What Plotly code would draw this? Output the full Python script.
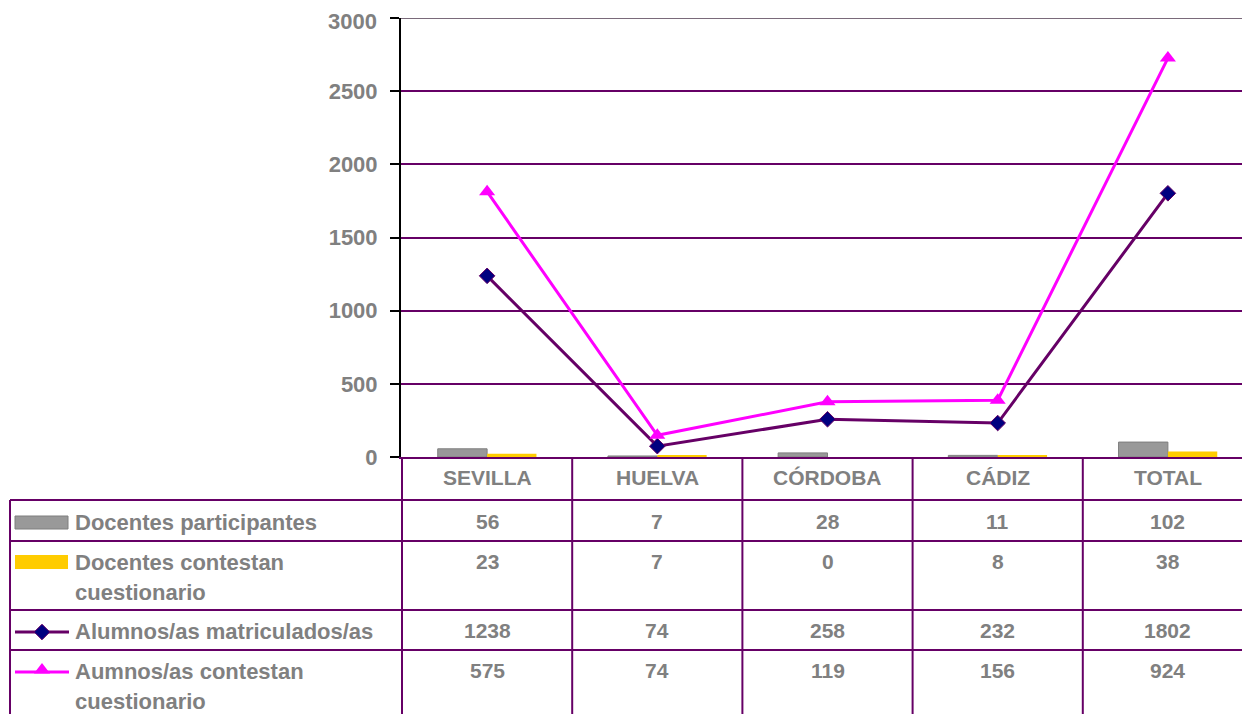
import plotly.graph_objects as go

categories = ["SEVILLA", "HUELVA", "CÓRDOBA", "CÁDIZ", "TOTAL"]
docentes_participantes = [56, 7, 28, 11, 102]
docentes_contestan = [23, 7, 0, 8, 38]
alumnos_matriculados = [1238, 74, 258, 232, 1802]
alumnos_contestan = [575, 74, 119, 156, 924]
y_ticks = [0, 500, 1000, 1500, 2000, 2500, 3000]

series_label_lines = [["Docentes participantes"],
                      ["Docentes contestan", "cuestionario"],
                      ["Alumnos/as matriculados/as"],
                      ["Aumnos/as contestan", "cuestionario"]]
series_values = [docentes_participantes, docentes_contestan, alumnos_matriculados, alumnos_contestan]

W, H = 1250, 714
OFF = 8  # page body margin
PURPLE = "#660066"
GRAY_TXT = "#808080"
FONT = "Liberation Sans"


def fx(x):
    return (x - OFF) / W


def fy(y):
    return 1 - (y - OFF) / H


fig = go.Figure()

fig.add_trace(go.Bar(x=categories, y=docentes_participantes, name="Docentes participantes",
                     marker=dict(color="#999999", line=dict(color="#7f7f7f", width=1))))
fig.add_trace(go.Bar(x=categories, y=docentes_contestan, name="Docentes contestan cuestionario",
                     marker=dict(color="#FFCC00", line=dict(width=0))))
fig.add_trace(go.Scatter(x=categories, y=alumnos_matriculados, name="Alumnos/as matriculados/as",
                         stackgroup="s", fill="none", mode="lines+markers",
                         line=dict(color=PURPLE, width=3),
                         marker=dict(symbol="diamond", size=12, color="#000080",
                                     line=dict(color=PURPLE, width=1))))
fig.add_trace(go.Scatter(x=categories, y=alumnos_contestan, name="Aumnos/as contestan cuestionario",
                         stackgroup="s", fill="none", mode="lines+markers",
                         line=dict(color="#FF00FF", width=3),
                         marker=dict(symbol="triangle-up", size=14, color="#FF00FF")))

# legend keys inside the data table (overlay axes in page pixels)
common = dict(xaxis="x2", yaxis="y2", showlegend=False, hoverinfo="skip")
fig.add_trace(go.Scatter(x=[15, 68, 68, 15, 15], y=[516, 516, 529, 529, 516], fill="toself",
                         fillcolor="#999999", mode="lines", line=dict(color="#7f7f7f", width=1),
                         **common))
fig.add_trace(go.Scatter(x=[15, 68, 68, 15, 15], y=[555, 555, 569, 569, 555], fill="toself",
                         fillcolor="#FFCC00", mode="lines", line=dict(color="#FFCC00", width=0),
                         **common))
fig.add_trace(go.Scatter(x=[15, 69], y=[632, 632], mode="lines",
                         line=dict(color=PURPLE, width=3), **common))
fig.add_trace(go.Scatter(x=[42], y=[632], mode="markers",
                         marker=dict(symbol="diamond", size=12, color="#000080",
                                     line=dict(color=PURPLE, width=1)), **common))
fig.add_trace(go.Scatter(x=[15, 69], y=[672, 672], mode="lines",
                         line=dict(color="#FF00FF", width=3), **common))
fig.add_trace(go.Scatter(x=[42], y=[670], mode="markers",
                         marker=dict(symbol="triangle-up", size=14, color="#FF00FF"), **common))

shapes = []
# top border line at 3000
shapes.append(dict(type="line", xref="paper", yref="y", x0=fx(401), x1=1, y0=3000, y1=3000,
                   line=dict(color="#7a6a7a", width=2)))
# table horizontal lines
for yy in [500, 541, 610, 650]:
    shapes.append(dict(type="line", xref="paper", yref="paper", x0=fx(10), x1=1,
                       y0=fy(yy), y1=fy(yy), line=dict(color=PURPLE, width=2)))
# table left border
shapes.append(dict(type="line", xref="paper", yref="paper", x0=fx(10), x1=fx(10),
                   y0=fy(500), y1=0, line=dict(color=PURPLE, width=2)))
# column dividers
for i in range(len(categories)):
    shapes.append(dict(type="line", xref="x", yref="paper", x0=i - 0.5, x1=i - 0.5,
                       y0=fy(457), y1=0, line=dict(color=PURPLE, width=2)))

annotations = []
font_tick = dict(family=FONT, size=22, color=GRAY_TXT, weight="bold")
font_tbl = dict(family=FONT, size=21, color=GRAY_TXT, weight="bold")
font_lbl = dict(family=FONT, size=22, color=GRAY_TXT, weight="bold")
for c in categories:
    annotations.append(dict(x=c, xref="x", y=fy(477), yref="paper", text=c, showarrow=False,
                            font=font_tbl, xanchor="center", yanchor="middle"))
value_rows = [521, 561, 630, 670]
for vals, yy in zip(series_values, value_rows):
    for c, v in zip(categories, vals):
        annotations.append(dict(x=c, xref="x", y=fy(yy), yref="paper", text=str(v), showarrow=False,
                                font=font_tbl, xanchor="center", yanchor="middle"))
label_centers = [[522], [562, 592], [631], [671, 701]]
for lines, ys in zip(series_label_lines, label_centers):
    for txt, yy in zip(lines, ys):
        annotations.append(dict(x=fx(73), xref="paper", y=fy(yy), yref="paper", text=txt,
                                showarrow=False, font=font_lbl, xanchor="left", yanchor="middle"))

# top tick label placed as annotation so it stays inside the figure
top_tick = y_ticks[-1]
annotations.append(dict(x=fx(378), xref="paper", y=1, yref="paper", text=str(top_tick),
                        showarrow=False, font=font_tick, xanchor="right", yanchor="top",
                        borderpad=0))
tick_text = [str(v) if v != top_tick else "" for v in y_ticks]

fig.update_layout(
    width=W, height=H,
    margin=dict(l=0, r=0, t=0, b=0, pad=0),
    paper_bgcolor="white", plot_bgcolor="rgba(0,0,0,0)",
    showlegend=False,
    barmode="group", bargap=0.42, bargroupgap=0,
    xaxis=dict(domain=[fx(401), fx(1253)], showticklabels=False, ticks="", showline=True,
               linecolor=PURPLE, linewidth=2, showgrid=False, automargin=False, fixedrange=True),
    yaxis=dict(domain=[fy(457), fy(18)], range=[0, 3000], tickvals=y_ticks, ticktext=tick_text,
               showgrid=True, gridcolor=PURPLE, gridwidth=2, zeroline=False,
               showline=True, linecolor="black", linewidth=2,
               ticks="outside", ticklen=9, tickwidth=2, tickcolor="black",
               ticklabelstandoff=8, automargin=False,
               tickfont=font_tick),
    xaxis2=dict(domain=[0, 1], range=[OFF, W + OFF], visible=False, anchor="y2", automargin=False),
    yaxis2=dict(domain=[0, 1], range=[H + OFF, OFF], visible=False, anchor="x2", automargin=False),
    shapes=shapes, annotations=annotations,
)

fig.write_html("out.html")
